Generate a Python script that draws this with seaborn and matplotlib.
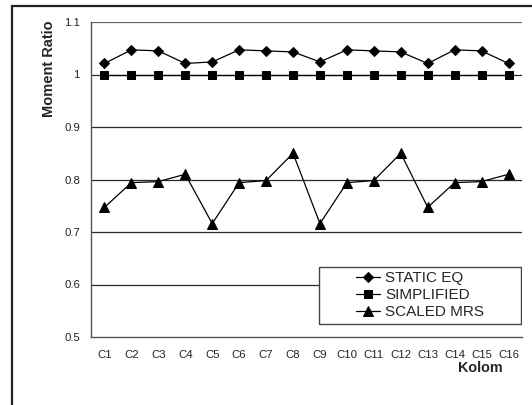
import matplotlib
matplotlib.use("Agg")
import matplotlib.pyplot as plt
from matplotlib.patches import Rectangle
from matplotlib.ticker import FixedLocator, FuncFormatter
import seaborn as sns
import pandas as pd
import numpy as np

columns = ["C1", "C2", "C3", "C4", "C5", "C6", "C7", "C8",
           "C9", "C10", "C11", "C12", "C13", "C14", "C15", "C16"]
static_eq = [1.021, 1.047, 1.045, 1.021, 1.024, 1.047, 1.045, 1.043,
             1.024, 1.047, 1.045, 1.043, 1.021, 1.047, 1.045, 1.021]
simplified = [1.0] * 16
scaled_mrs = [0.747, 0.794, 0.796, 0.810, 0.716, 0.794, 0.798, 0.850,
              0.716, 0.794, 0.798, 0.850, 0.747, 0.794, 0.796, 0.810]
series_names = ["STATIC EQ", "SIMPLIFIED", "SCALED MRS"]
y_ticks = [0.5, 0.6, 0.7, 0.8, 0.9, 1.0, 1.1]

sns.set_theme(style="white")
plt.rcParams["font.family"] = ["Liberation Sans", "DejaVu Sans"]

df = pd.DataFrame({
    "Kolom": columns * 3,
    "Moment Ratio": static_eq + simplified + scaled_mrs,
    "Series": [series_names[0]] * 16 + [series_names[1]] * 16 + [series_names[2]] * 16,
})
df["pos"] = df["Kolom"].map({c: i for i, c in enumerate(columns)})

W, H = 532, 405
fig = plt.figure(figsize=(W / 100, H / 100), dpi=100)
ax = fig.add_axes([91 / W, 1 - 337 / H, (522 - 91) / W, (337 - 22) / H])

# outer chart border
fig.patches.append(Rectangle((12 / W, -0.05), 1.2, 1 - 6 / H + 0.05,
                             transform=fig.transFigure, fill=False,
                             edgecolor="#222222", linewidth=1.6, zorder=0))

# horizontal gridlines
for yv in y_ticks[1:]:
    ax.axhline(yv, color="#2a2a2a" if yv < 1.1 else "#666666", lw=0.9, zorder=1)

markers = {"STATIC EQ": "D", "SIMPLIFIED": "s", "SCALED MRS": "^"}
sizes = {"STATIC EQ": 5.5, "SIMPLIFIED": 6.3, "SCALED MRS": 7.5}
for name in series_names:
    sub = df[df["Series"] == name]
    sns.lineplot(data=sub, x="pos", y="Moment Ratio", ax=ax, color="black",
                 lw=0.9, marker=markers[name], markersize=sizes[name],
                 markeredgecolor="black", markerfacecolor="black",
                 label=name, zorder=3, sort=False)

ax.set_xlim(-0.5, 15.5)
ax.set_ylim(0.5, 1.1)
ax.set_xticks(range(len(columns)))
ax.set_xticklabels(columns)
ax.xaxis.set_minor_locator(FixedLocator(np.arange(-0.5, 16, 1)))
ax.tick_params(axis="x", which="major", length=0, labelsize=8.2, pad=9, labelcolor="#222222")
ax.tick_params(axis="x", which="minor", length=4, width=1, color="#444444", direction="out")
ax.set_yticks(y_ticks)
ax.yaxis.set_major_formatter(FuncFormatter(lambda v, p: f"{v:g}"))
ax.tick_params(axis="y", length=4, width=1, color="#444444", direction="out",
               labelsize=8.2, pad=4, labelcolor="#222222")

for side in ["top", "right"]:
    ax.spines[side].set_visible(False)
for side in ["left", "bottom"]:
    ax.spines[side].set_color("#555555")
    ax.spines[side].set_linewidth(1.0)

ax.set_xlabel("")
ax.set_ylabel("")
fig.text(49 / W, 1 - 69 / H, "Moment Ratio", fontsize=10.5, fontweight="bold",
         rotation=90, ha="center", va="center")
fig.text(480 / W, 1 - 368 / H, "Kolom", fontsize=10.4, fontweight="bold",
         ha="center", va="center")

# legend with a wide box around it
leg = ax.legend(loc="center left", bbox_to_anchor=((356 - 91) / 431, 0.132),
                fontsize=11, frameon=False, handlelength=1.6,
                handletextpad=0.3, borderpad=0, labelspacing=0.2,
                borderaxespad=0)
ax.add_patch(Rectangle(((319 - 91) / 431, (337 - 324) / 315),
                       (521 - 319) / 431, (324 - 267) / 315,
                       transform=ax.transAxes, facecolor="white",
                       edgecolor="#444444", lw=1.0, zorder=4))
leg.set_zorder(5)

fig.savefig("out.png", dpi=100)
